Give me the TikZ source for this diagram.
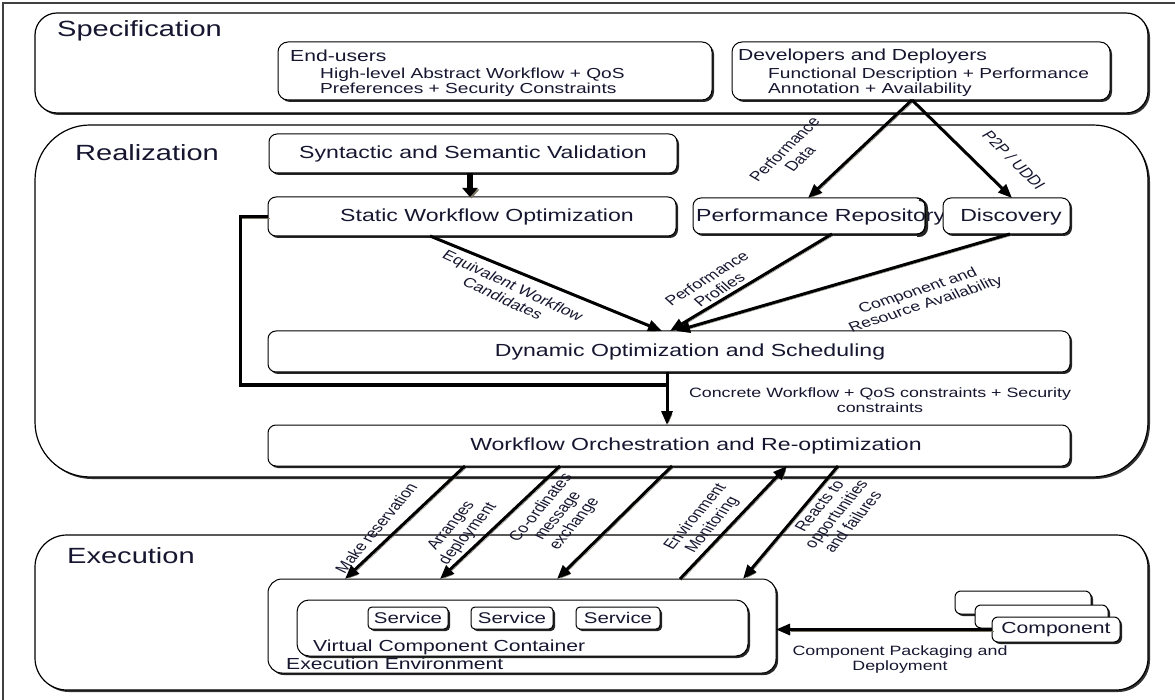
\documentclass[tikz,border=0pt]{standalone}
\usepackage{fontspec}
\setmainfont{Liberation Sans}[FakeStretch=1.32]
\newfontfamily\lblfont{Liberation Sans}
\usetikzlibrary{arrows.meta,shadows}
\definecolor{ink}{RGB}{22,22,48}
\definecolor{shade}{RGB}{125,118,100}
\begin{document}
\begin{tikzpicture}[x=1pt,y=-1pt,
  every node/.style={text=ink},
  zone/.style={draw=black, line width=1.2pt, fill=white, rounded corners=#1,
    inner sep=0pt, outer sep=0pt, anchor=north west,
    drop shadow={shadow xshift=2pt, shadow yshift=-2pt, fill=black!80, opacity=1}},
  box/.style={draw=black, line width=1pt, fill=white, rounded corners=#1,
    inner sep=0pt, outer sep=0pt, anchor=north west,
    drop shadow={shadow xshift=2pt, shadow yshift=-2pt, fill=black!85, opacity=1}},
  box/.default=8pt,
  title/.style={font=\fontsize{22}{26}\selectfont, anchor=west, inner sep=0pt},
  boxtext/.style={font=\fontsize{17.5}{20}\selectfont, inner sep=0pt},
  role/.style={font=\fontsize{16}{18}\selectfont, anchor=west, inner sep=0pt},
  detail/.style={font=\fontsize{14.5}{15}\selectfont, anchor=west, align=left, inner sep=0pt},
  note/.style={font=\fontsize{13.5}{15}\selectfont, align=center, inner sep=0pt},
  % rotated label, widened horizontally after rotation
  tag/.style={font=\lblfont\fontsize{13.5}{15}\selectfont, align=center, inner sep=0pt,
    cm={1.32*cos(#1), sin(#1), -1.32*sin(#1), cos(#1), (0,0)}},
  flow/.style={line width=3pt, -{Triangle[length=14pt,width=11pt]},
    preaction={draw=shade, transform canvas={shift={(1.5pt,-1.5pt)}}}},
  fat/.style={line width=6pt, -{Triangle[length=9pt,width=15pt]},
    preaction={draw=shade, transform canvas={shift={(1.5pt,-1.5pt)}}}},
  feed/.style={line width=3pt, line join=miter,
    preaction={draw=shade, transform canvas={shift={(1.5pt,-1.5pt)}}}},
]
\useasboundingbox (0,0) rectangle (1175,700);
\fill[white] (0,0) rectangle (1175,700);

% page frame
\draw[line width=1.2pt, draw=black!75] (3,700) -- (3,3) -- (1175,3);

% the three layers
\node[zone=22pt, minimum width=1113pt, minimum height=100pt] (spec) at (35,13) {};
\node[zone=55pt, minimum width=1113pt, minimum height=352pt] (real) at (35,125) {};
\node[zone=32pt, minimum width=1113pt, minimum height=155pt] (exec) at (35,535) {};
\node[title] (specT) at (57,31) {Specification};
\node[title] (realT) at (75,153) {Realization};
\node[title] (execT) at (67,556) {Execution};

% specification inputs
\node[box=10pt, minimum width=434pt, minimum height=58pt] (users) at (278,42) {};
\node[role] (usersT) at (290,56) {End-users};
\node[detail] (usersD) at (320,82) {High-level Abstract Workflow + QoS\\Preferences + Security Constraints};
\node[box=10pt, minimum width=378pt, minimum height=58pt] (dev) at (732,42) {};
\node[role] (devT) at (738,56) {Developers and Deployers};
\node[detail] (devD) at (768,82) {Functional Description + Performance\\Annotation + Availability};

% realization steps
\node[box, minimum width=408pt, minimum height=39pt] (valid) at (269,134) {};
\node[boxtext] (validT) at (valid.center) {Syntactic and Semantic Validation};
\node[box, minimum width=408pt, minimum height=39pt] (static) at (268,197) {};
\node[boxtext] (staticT) at (487,217) {Static Workflow Optimization};
\node[box, minimum width=232pt, minimum height=36pt] (repo) at (693,198) {};
\node[boxtext, anchor=west] (repoT) at (696,217) {Performance Repository};
% the repository's right edge runs over its overflowing name
\draw[black!85, line width=2pt, rounded corners=8pt]
  ([xshift=-6pt, yshift=-2pt]repo.north east) -- ([xshift=2pt, yshift=-2pt]repo.north east)
  -- ([xshift=2pt, yshift=-2pt]repo.south east) -- ([xshift=-8pt, yshift=-2pt]repo.south east);
\draw[line width=1pt, rounded corners=8pt]
  ([xshift=-8pt]repo.north east) -- (repo.north east) -- (repo.south east) -- ([xshift=-8pt]repo.south east);
\node[box, minimum width=127pt, minimum height=36pt] (disc) at (943,198) {};
\node[boxtext] (discT) at (1011,217) {Discovery};
\node[box, minimum width=802pt, minimum height=41pt] (dyn) at (268,331) {};
\node[boxtext] (dynT) at (690,352) {Dynamic Optimization and Scheduling};
\node[box, minimum width=802pt, minimum height=41pt] (wo) at (268,425) {};
\node[boxtext] (woT) at (696,446) {Workflow Orchestration and Re-optimization};

% execution environment
\node[box=14pt, minimum width=508pt, minimum height=94pt] (env) at (268,579) {};
\node[box=12pt, minimum width=451pt, minimum height=56pt] (vcc) at (297,600) {};
\node[box=4pt, minimum width=80pt, minimum height=22pt, font=\fontsize{15.5}{17}\selectfont] (s1) at (368,607) {Service};
\node[box=4pt, minimum width=82pt, minimum height=22pt, font=\fontsize{15.5}{17}\selectfont] (s2) at (471,607) {Service};
\node[box=4pt, minimum width=84pt, minimum height=22pt, font=\fontsize{15.5}{17}\selectfont] (s3) at (576,607) {Service};
\node[role] (vccT) at (313,647) {Virtual Component Container};
\node[role] (envT) at (286,664) {Execution Environment};

% component packages
\node[box=6pt, minimum width=136pt, minimum height=23pt] (c3) at (955,591) {};
\node[box=6pt, minimum width=133pt, minimum height=23pt] (c2) at (975,605) {};
\node[box=6pt, minimum width=128pt, minimum height=25pt, font=\fontsize{16}{18}\selectfont] (c1) at (992,617) {Component};

% connectors in the specification / realization layers
\draw[flow] (912,0 |- dev.south) -- (808,0 |- repo.north);
\draw[flow] (912,0 |- dev.south) -- (1012,0 |- disc.north);
\draw[fat] (470,0 |- valid.south) -- (470,0 |- static.north);
\draw[flow] (430,0 |- static.south) -- (662,0 |- dyn.north);
\draw[flow] (832,0 |- repo.south) -- (670,0 |- dyn.north);
\draw[flow] (1010,0 |- disc.south) -- (676,0 |- dyn.north);
\coordinate (join) at (667,385);
\draw[feed] (static.west) -- ++(-28,0) |- (join);
\draw[flow] (667,0 |- dyn.south) -- (667,0 |- wo.north);

% connectors to the execution layer
\draw[flow] (465,0 |- wo.south) -- (345,0 |- env.north);
\draw[flow] (560,0 |- wo.south) -- (440,0 |- env.north);
\draw[flow] (672,0 |- wo.south) -- (557,0 |- env.north);
\draw[flow] (680,0 |- env.north) -- (787,0 |- wo.south);
\draw[flow] (838,0 |- wo.south) -- (743,0 |- env.north);
\draw[flow] (c1.west) -- (env.east |- c1.west);

% connector labels
\node[tag=51.9] (lPerfData) at (792,154) {Performance\\Data};
\node[tag=-52.9] (lP2P) at (1014,160) {P2P / UDDI};
\node[tag=-31.6] (lEquiv) at (508,292) {Equivalent Workflow\\Candidates};
\node[tag=39.5] (lProf) at (713,284) {Performance\\Profiles};
\node[tag=23.2] (lAvail) at (922,298) {Component and\\Resource Availability};
\node[note] (lConcrete) at (880,400) {Concrete Workflow + QoS constraints + Security\\constraints};
\node[tag=57.5] (lRes) at (376,528) {Make reservation};
\node[tag=57.5] (lDep) at (460,530) {Arranges\\deployment};
\node[tag=57.5] (lMsg) at (558,516) {Co-ordinates\\message\\exchange};
\node[tag=57.5] (lMon) at (704,521) {Environment\\Monitoring};
\node[tag=57.5] (lReact) at (836,514) {Reacts to\\opportunities\\and failures};
\node[note] (lPack) at (900,660) {Component Packaging and\\Deployment};
\end{tikzpicture}
\end{document}
